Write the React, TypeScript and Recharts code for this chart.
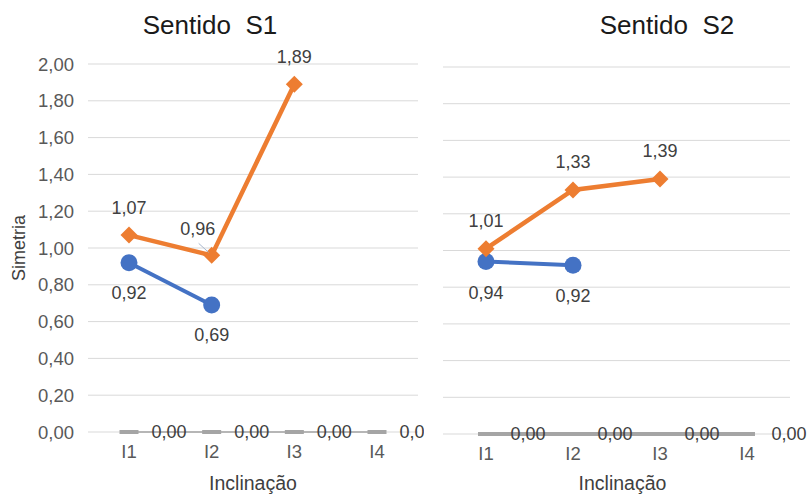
import React from 'react';
import { LineChart, Line, XAxis, YAxis, CartesianGrid, LabelList, Label } from 'recharts';

const categories = ['I1', 'I2', 'I3', 'I4'];
const yTicks = [0, 0.2, 0.4, 0.6, 0.8, 1.0, 1.2, 1.4, 1.6, 1.8, 2.0];

// Sentido S1
const s1Orange = [1.07, 0.96, 1.89, null];
const s1Blue = [0.92, 0.69, null, null];
const s1Gray = [0, 0, 0, 0];

// Sentido S2
const s2Orange = [1.01, 1.33, 1.39, null];
const s2Blue = [0.94, 0.92, null, null];
const s2Gray = [0, 0, 0, 0];

const ORANGE = '#ED7D31';
const BLUE = '#4472C4';
const GRAY = '#A5A5A5';
const TEXT = '#404040';
const FONT = '"Liberation Sans", Arial, sans-serif';
const LABEL_SIZE = 18;

const fmt = (v: number) => v.toFixed(2).replace('.', ',');

const buildRows = (orange: (number | null)[], blue: (number | null)[], gray: number[]) =>
  categories.map((name, i) => ({ name, orange: orange[i], blue: blue[i], gray: gray[i] }));

const rowsS1 = buildRows(s1Orange, s1Blue, s1Gray);
const rowsS2 = buildRows(s2Orange, s2Blue, s2Gray);

// markers
const Diamond = (props: any) => {
  const { cx, cy, value, index } = props;
  if (value == null || cy == null || cx == null) return <g key={`dm-${index}`} />;
  const r = 8.5;
  return (
    <polygon
      key={`dm-${index}`}
      points={`${cx},${cy - r} ${cx + r},${cy} ${cx},${cy + r} ${cx - r},${cy}`}
      fill={ORANGE}
    />
  );
};

const Circle = (props: any) => {
  const { cx, cy, value, index } = props;
  if (value == null || cy == null || cx == null) return <g key={`ci-${index}`} />;
  return <circle key={`ci-${index}`} cx={cx} cy={cy} r={8.5} fill={BLUE} />;
};

const makeDash = (w: number) => (props: any) => {
  const { cx, cy, index } = props;
  if (cy == null || cx == null) return <g key={`da-${index}`} />;
  return <rect key={`da-${index}`} x={cx - w / 2} y={cy - 2} width={w} height={4} fill={GRAY} />;
};

// data labels
const makeLabel = (dx: number, dy: number, moved?: { index: number; dx: number; dy: number }) =>
  (props: any) => {
    const { value, index } = props;
    if (value == null) return null;
    const x = props.x ?? props.viewBox?.x;
    const y = props.y ?? props.viewBox?.y;
    if (moved && moved.index === index) {
      return (
        <g>
          <line x1={x - 13} y1={y - 12} x2={x - 3} y2={y - 3} stroke="#A9B8CF" strokeWidth={1} />
          <text x={x + moved.dx} y={y + moved.dy} textAnchor="middle" dominantBaseline="central"
            fontSize={LABEL_SIZE} fill={TEXT} fontFamily={FONT}>{fmt(value)}</text>
        </g>
      );
    }
    return (
      <text x={x + dx} y={y + dy} textAnchor="middle" dominantBaseline="central"
        fontSize={LABEL_SIZE} fill={TEXT} fontFamily={FONT}>{fmt(value)}</text>
    );
  };

const tickStyle = { fontSize: 18.5, fill: '#595959', fontFamily: FONT };

const Title = ({ text, cx }: { text: string; cx: number }) => (
  <div
    style={{
      position: 'absolute', left: cx - 100, top: 12, width: 200, textAlign: 'center',
      fontFamily: FONT, fontSize: 26, lineHeight: '26px', color: '#1a1a1a', whiteSpace: 'pre',
    }}
  >
    {text}
  </div>
);

export default function App() {
  return (
    <div style={{ position: 'absolute', left: 0, top: 0, width: 807, height: 495, background: '#fff', overflow: 'hidden' }}>
      <Title text={'Sentido  S1'} cx={210} />
      <Title text={'Sentido  S2'} cx={667} />

      <div style={{ position: 'absolute', left: 0, top: 0 }}>
        <LineChart width={424} height={495} data={rowsS1} margin={{ top: 64, right: 6, bottom: 0, left: 0 }}>
          <CartesianGrid horizontal vertical={false} stroke="#D9D9D9" />
          <XAxis dataKey="name" axisLine={false} tickLine={false} tickSize={0} tickMargin={13}
            padding={{ left: 41, right: 41 }} height={63} tick={tickStyle} interval={0}>
            <Label value="Inclinação" position="insideBottom" offset={5}
              style={{ fontSize: 19.5, fill: TEXT, fontFamily: FONT }} />
          </XAxis>
          <YAxis domain={[0, 2]} ticks={yTicks} width={88} axisLine={false} tickLine={false}
            tickSize={0} tickMargin={14} tick={tickStyle} tickFormatter={fmt} interval={0}>
            <Label value="Simetria" angle={-90} position="insideLeft" offset={19}
              style={{ fontSize: 18, fill: TEXT, fontFamily: FONT, textAnchor: 'middle' }} />
          </YAxis>
          <Line dataKey="gray" stroke={GRAY} strokeWidth={1.5} dot={makeDash(19)} isAnimationActive={false}>
            <LabelList dataKey="gray" content={makeLabel(40, 0)} />
          </Line>
          <Line dataKey="blue" stroke={BLUE} strokeWidth={4} dot={Circle} isAnimationActive={false}>
            <LabelList dataKey="blue" content={makeLabel(0, 30)} />
          </Line>
          <Line dataKey="orange" stroke={ORANGE} strokeWidth={4.5} dot={Diamond} isAnimationActive={false}>
            <LabelList dataKey="orange" content={makeLabel(0, -27, { index: 1, dx: -14, dy: -26 })} />
          </Line>
        </LineChart>
      </div>

      <div style={{ position: 'absolute', left: 420, top: 0 }}>
        <LineChart width={387} height={495} data={rowsS2} margin={{ top: 67, right: 17, bottom: 0, left: 23 }}>
          <CartesianGrid horizontal vertical={false} stroke="#D9D9D9" />
          <XAxis dataKey="name" axisLine={false} tickLine={false} tickSize={0} tickMargin={13}
            padding={{ left: 43, right: 43 }} height={61} tick={tickStyle} interval={0}>
            <Label value="Inclinação" position="insideBottom" offset={5} dx={6}
              style={{ fontSize: 19.5, fill: TEXT, fontFamily: FONT }} />
          </XAxis>
          <YAxis hide domain={[0, 2]} ticks={yTicks} interval={0} />
          <Line dataKey="gray" stroke={GRAY} strokeWidth={4} dot={makeDash(16)} isAnimationActive={false}>
            <LabelList dataKey="gray" content={makeLabel(42, 0)} />
          </Line>
          <Line dataKey="blue" stroke={BLUE} strokeWidth={4} dot={Circle} isAnimationActive={false}>
            <LabelList dataKey="blue" content={makeLabel(0, 31)} />
          </Line>
          <Line dataKey="orange" stroke={ORANGE} strokeWidth={4.5} dot={Diamond} isAnimationActive={false}>
            <LabelList dataKey="orange" content={makeLabel(0, -28)} />
          </Line>
        </LineChart>
      </div>
    </div>
  );
}
